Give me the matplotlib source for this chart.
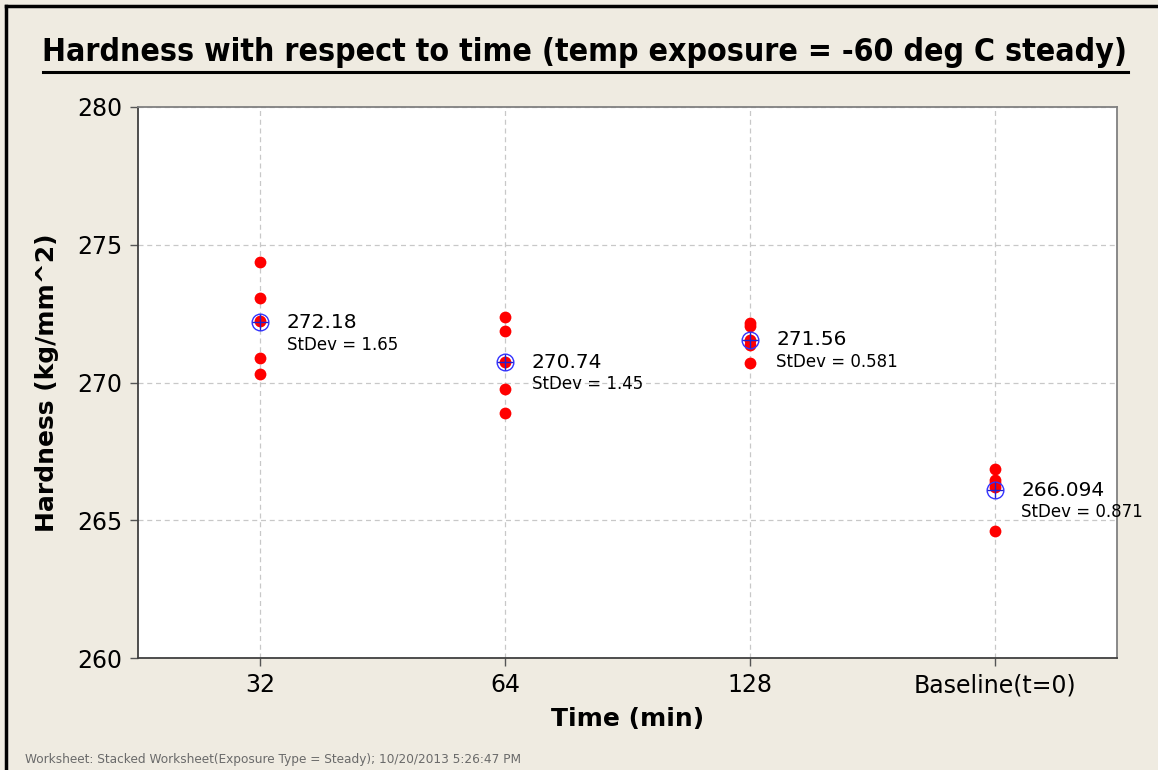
import matplotlib
matplotlib.use("Agg")
import matplotlib.pyplot as plt
from matplotlib.lines import Line2D

# Individual hardness readings per exposure time
categories = ["32", "64", "128", "Baseline(t=0)"]
readings_32 = [274.38, 273.08, 272.24, 270.90, 270.30]
readings_64 = [272.39, 271.88, 270.76, 269.78, 268.89]
readings_128 = [272.15, 272.05, 271.55, 271.35, 270.70]
readings_base = [266.85, 266.45, 266.35, 266.20, 264.62]
group_means = [272.18, 270.74, 271.56, 266.094]
group_stdevs = [1.65, 1.45, 0.581, 0.871]
mean_labels = ["272.18", "270.74", "271.56", "266.094"]
stdev_labels = ["1.65", "1.45", "0.581", "0.871"]
y_ticks = [260, 265, 270, 275, 280]

title = "Hardness with respect to time (temp exposure = -60 deg C steady)"
footer = "Worksheet: Stacked Worksheet(Exposure Type = Steady); 10/20/2013 5:26:47 PM"

BG = "#EFEBE1"
FONT = "DejaVu Sans"

W, H = 1158, 770
fig = plt.figure(figsize=(W / 100, H / 100), dpi=100, facecolor=BG)
ax = fig.add_axes([138 / W, 1 - 658 / H, (1117 - 138) / W, (658 - 107) / H])
ax.set_facecolor("white")

groups = [readings_32, readings_64, readings_128, readings_base]
for i, vals in enumerate(groups):
    ax.plot([i] * len(vals), vals, "o", color="#FF0000", markersize=8.5,
            markeredgewidth=0, zorder=3)

# group means: open circle with crosshair
xs = list(range(len(categories)))
ax.plot(xs, group_means, "o", markerfacecolor="none", markeredgecolor="#3333FF",
        markersize=12, markeredgewidth=1.0, zorder=4)
ax.plot(xs, group_means, "+", color="#2020D0", markersize=12,
        markeredgewidth=1.0, zorder=5)

for i, (m, ml, sl) in enumerate(zip(group_means, mean_labels, stdev_labels)):
    ax.annotate(ml, (i, m), xytext=(19, 0), textcoords="offset points",
                ha="left", va="center", fontsize=14.5, family=FONT, color="black")
    ax.annotate(f"StDev = {sl}", (i, m), xytext=(19, -16), textcoords="offset points",
                ha="left", va="center", fontsize=12, family=FONT, color="black")

ax.set_xlim(-0.5, 3.5)
ax.set_ylim(260, 280)
ax.set_xticks(xs)
ax.set_xticklabels(categories)
ax.set_yticks(y_ticks)
ax.tick_params(axis="both", direction="out", length=6, width=1, color="#555555",
               labelsize=17, pad=5)
for lab in ax.get_xticklabels() + ax.get_yticklabels():
    lab.set_family(FONT)

ax.grid(True, color="#C8C8C8", linestyle=(0, (4, 3)), linewidth=0.9)
ax.set_axisbelow(True)
for side, sp in ax.spines.items():
    sp.set_color("#808080" if side in ("top", "right") else "#404040")
    sp.set_linewidth(1.3)

ax.set_xlabel("Time (min)", fontsize=18, fontweight="bold", family=FONT, labelpad=7)
ax.set_ylabel("Hardness (kg/mm^2)", fontsize=18, fontweight="bold", family=FONT, labelpad=13)

# title with underline
t = fig.text(585 / W, 1 - 52 / H, title, ha="center", va="center",
             fontsize=20, fontweight="bold", fontstretch="condensed", family=FONT)
fig.canvas.draw()
renderer = fig.canvas.get_renderer()
target_w = 1128 - 42
bb = t.get_window_extent(renderer)
t.set_fontsize(20 * target_w / bb.width)
fig.canvas.draw()
bb = t.get_window_extent(renderer)
uy = (H - 72) / H
fig.add_artist(Line2D([bb.x0 / W, bb.x1 / W], [uy, uy], color="black",
                      linewidth=2.2, transform=fig.transFigure))

fig.text(25 / W, 1 - 760 / H, footer, ha="left", va="center", fontsize=8.7,
         color="#6A6A6A", family=FONT)

# outer frame (left and top edges)
fig.add_artist(Line2D([6 / W, 6 / W], [0, 1 - 6 / H], color="black", linewidth=2.5,
                      transform=fig.transFigure))
fig.add_artist(Line2D([6 / W, 1], [1 - 6 / H, 1 - 6 / H], color="black", linewidth=2.5,
                      transform=fig.transFigure))

fig.savefig("out.png", dpi=100, facecolor=BG)
